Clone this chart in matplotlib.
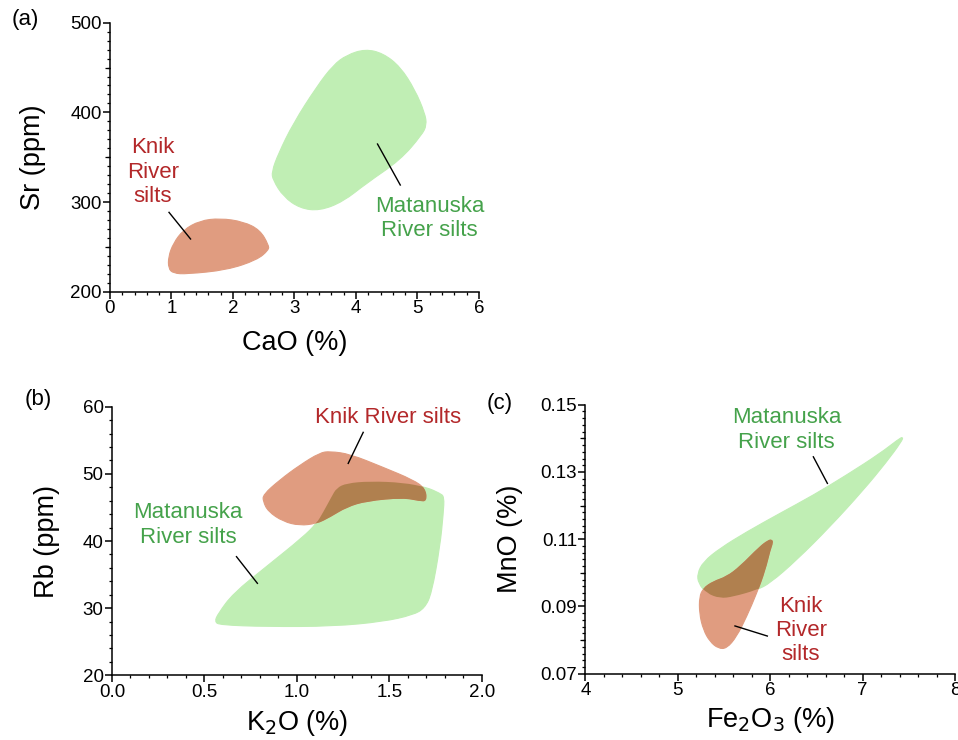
import numpy as np
import matplotlib
matplotlib.use('Agg')
import matplotlib.pyplot as plt
from matplotlib.patches import PathPatch
from matplotlib.path import Path
from matplotlib.ticker import MultipleLocator, FixedLocator, FormatStrFormatter, NullFormatter

plt.rcParams['font.family'] = ['Liberation Sans', 'DejaVu Sans']

"""
Knik vs Matanuska river silt fields, three geochemistry panels.
"""

red = '#e09c80'
green = '#c0eeb4'
brown = '#b0804f'
red_txt = '#b3282a'
green_txt = '#45a24b'

# panel (a): CaO (%) vs Sr (ppm)
cao_mat = [3.63, 3.85, 4.15, 4.44, 4.72, 4.96, 5.12, 5.15, 5.07, 4.72, 4.17, 3.79, 3.41, 3.09,
           2.82, 2.65, 2.63, 2.74, 2.98, 3.36]
sr_mat = [452.8, 464, 470.6, 465.9, 450.9, 425, 399, 385.9, 374.8, 346.9, 320.9, 300.4, 290.3, 293,
          306, 324.6, 333.8, 354.3, 387.8, 428.6]
cao_knik = [0.95, 1.03, 1.25, 1.90, 2.39, 2.58, 2.58, 2.44, 2.17, 1.79, 1.46, 1.19, 1.03, 0.95]
sr_knik = [226, 220.5, 219.7, 224.2, 235.4, 246.5, 252, 268.8, 278.1, 281.9, 279.2, 268.8, 254, 239]
sr_mid_ticks = [250, 350, 450]

# panel (b): K2O (%) vs Rb (ppm)
k2o_mat = [0.555, 0.583, 0.835, 1.196, 1.466, 1.628, 1.69, 1.728, 1.773, 1.791, 1.796, 1.773, 1.70,
           1.574, 1.394, 1.268, 1.214, 1.187, 1.142, 1.105, 1.033, 0.835, 0.655, 0.574]
rb_mat = [28.0, 27.5, 27.25, 27.3, 28.0, 29.0, 30.0, 32.2, 39.2, 44.1, 46.6, 47.1, 48.0,
          48.7, 48.9, 48.6, 47.9, 46.6, 44.3, 42.6, 40.6, 36.2, 32.2, 29.2]
k2o_knik = [0.817, 0.907, 1.015, 1.124, 1.178, 1.286, 1.466, 1.628, 1.692, 1.70, 1.665, 1.574,
            1.376, 1.268, 1.178, 1.105, 1.015, 0.925, 0.844, 0.817]
rb_knik = [46.9, 49.1, 51.3, 53.15, 53.35, 52.95, 50.97, 49.1, 47.84, 46.0, 46.0, 46.5,
           46.0, 45.1, 43.6, 42.6, 42.3, 42.9, 44.4, 45.9]

# panel (c): Fe2O3 (%) vs MnO (%)
fe_mat = [7.44, 7.42, 7.26, 7.008, 6.647, 6.287, 5.998, 5.854, 5.60, 5.457, 5.313, 5.223, 5.212,
          5.277, 5.457, 5.746, 6.106, 6.467, 6.828, 7.188, 7.386]
mn_mat = [0.1405, 0.139, 0.133, 0.1246, 0.1137, 0.1038, 0.0969, 0.0949, 0.0929, 0.0924, 0.0939,
          0.0969, 0.0998, 0.1033, 0.1073, 0.1122, 0.1177, 0.1231, 0.1291, 0.1355, 0.1397]
fe_knik = [6.016, 5.98, 5.89, 5.674, 5.529, 5.385, 5.277, 5.234, 5.234, 5.277, 5.349, 5.439,
           5.529, 5.637, 5.746, 5.854, 5.944, 5.998, 6.027]
mn_knik = [0.1098, 0.1096, 0.1078, 0.1018, 0.0988, 0.0974, 0.0954, 0.0929, 0.0879, 0.0830,
           0.0795, 0.0775, 0.0775, 0.0810, 0.0870, 0.0939, 0.1008, 0.1068, 0.1090]
mn_ticks = [0.07, 0.09, 0.11, 0.13, 0.15]
mn_mid_ticks = [0.08, 0.10, 0.12, 0.14]


def smooth_path(xs, ys):
    # closed quadratic bezier outline, read points used as control points
    v = np.column_stack([xs, ys])
    mids = (v + np.roll(v, -1, axis=0)) / 2
    verts = [mids[-1]]
    codes = [Path.MOVETO]
    for i in range(len(v)):
        verts += [v[i], mids[i]]
        codes += [Path.CURVE3, Path.CURVE3]
    verts.append(mids[-1])
    codes.append(Path.CLOSEPOLY)
    return Path(verts, codes)


def draw_fields(ax, xm, ym, xk, yk):
    g = PathPatch(smooth_path(xm, ym), fc=green, ec=green, lw=0.8)
    ax.add_patch(g)
    r = PathPatch(smooth_path(xk, yk), fc=red, ec=red, lw=0.8)
    ax.add_patch(r)
    o = PathPatch(smooth_path(xk, yk), fc=brown, ec=brown, lw=0.8)
    ax.add_patch(o)
    o.set_clip_path(g)


def style(ax, xlim, ylim, xmaj, xmin, ymaj, ymin, xlabel, ylabel, xl_pos, yl_pos):
    ax.set_xlim(*xlim)
    ax.set_ylim(*ylim)
    for s in ['top', 'right']:
        ax.spines[s].set_visible(False)
    for s in ['left', 'bottom']:
        ax.spines[s].set_linewidth(1.1)
    ax.xaxis.set_major_locator(MultipleLocator(xmaj))
    ax.xaxis.set_minor_locator(MultipleLocator(xmin))
    ax.yaxis.set_major_locator(MultipleLocator(ymaj))
    ax.yaxis.set_minor_locator(MultipleLocator(ymin))
    ax.tick_params(which='major', direction='out', length=5, width=1.1, labelsize=13.5, pad=1)
    ax.tick_params(which='minor', direction='out', length=2.5, width=0.9)
    ax.set_xlabel(xlabel, fontsize=19.5)
    ax.set_ylabel(ylabel, fontsize=19.5)
    ax.xaxis.set_label_coords(0.5, xl_pos)
    ax.yaxis.set_label_coords(yl_pos, 0.5)
    ax.xaxis.label.set_va('center')
    ax.yaxis.label.set_va('center')


def mid_ticks(ax, vals):
    sec = ax.secondary_yaxis('left')
    sec.spines['left'].set_visible(False)
    sec.yaxis.set_major_locator(FixedLocator(vals))
    sec.yaxis.set_major_formatter(NullFormatter())
    sec.yaxis.set_minor_locator(FixedLocator([]))
    sec.tick_params(which='major', direction='out', length=3.8, width=0.9)


fig = plt.figure(figsize=(9.58, 7.4), dpi=100)

ax_a = fig.add_axes([0.1148, 0.6058, 0.3852, 0.3635])
draw_fields(ax_a, cao_mat, sr_mat, cao_knik, sr_knik)
style(ax_a, (0, 6), (200, 500), 1, 0.2, 100, 10, 'CaO (%)', 'Sr (ppm)', -0.191, -0.209)
mid_ticks(ax_a, sr_mid_ticks)
ax_a.text(0.70, 333.5, 'Knik\nRiver\nsilts', color=red_txt, fontsize=16, ha='center', va='center', linespacing=1.2)
ax_a.text(5.20, 281.6, 'Matanuska\nRiver silts', color=green_txt, fontsize=16, ha='center', va='center', linespacing=1.2)
ax_a.plot([0.96, 1.31], [288.5, 258.8], color='black', lw=1)
ax_a.plot([4.35, 4.72], [364.7, 319], color='black', lw=1)

ax_b = fig.add_axes([0.1169, 0.0874, 0.3862, 0.363])
draw_fields(ax_b, k2o_mat, rb_mat, k2o_knik, rb_knik)
style(ax_b, (0, 2), (20, 60), 0.5, 0.1, 10, 2, 'K$_2$O (%)', 'Rb (ppm)', -0.178, -0.176)
ax_b.xaxis.set_major_formatter(FormatStrFormatter('%.1f'))
ax_b.text(1.493, 58.41, 'Knik River silts', color=red_txt, fontsize=16, ha='center', va='center')
ax_b.text(0.411, 42.38, 'Matanuska\nRiver silts', color=green_txt, fontsize=16, ha='center', va='center', linespacing=1.2)
ax_b.plot([1.358, 1.277], [56.18, 51.56], color='black', lw=1)
ax_b.plot([0.673, 0.786], [37.67, 33.70], color='black', lw=1)

ax_c = fig.add_axes([0.611, 0.0896, 0.3859, 0.3635])
draw_fields(ax_c, fe_mat, mn_mat, fe_knik, mn_knik)
style(ax_c, (4, 8), (0.07, 0.15), 1, 0.2, 0.02, 0.002, 'Fe$_2$O$_3$ (%)', 'MnO (%)', -0.172, -0.203)
ax_c.yaxis.set_major_locator(FixedLocator(mn_ticks))
ax_c.yaxis.set_major_formatter(FormatStrFormatter('%.2f'))
mid_ticks(ax_c, mn_mid_ticks)
ax_c.text(6.178, 0.1425, 'Matanuska\nRiver silts', color=green_txt, fontsize=16, ha='center', va='center', linespacing=1.2)
ax_c.text(6.334, 0.0828, 'Knik\nRiver\nsilts', color=red_txt, fontsize=16, ha='center', va='center', linespacing=1.2)
ax_c.plot([6.467, 6.619], [0.1345, 0.1266], color='black', lw=1)
ax_c.plot([5.619, 5.969], [0.0842, 0.0812], color='black', lw=1)

fig.text(25 / 958, 1 - 20 / 740, '(a)', fontsize=16, ha='center', va='center')
fig.text(38 / 958, 1 - 400 / 740, '(b)', fontsize=16, ha='center', va='center')
fig.text(500 / 958, 1 - 403 / 740, '(c)', fontsize=16, ha='center', va='center')

fig.savefig('out.png', dpi=100)
